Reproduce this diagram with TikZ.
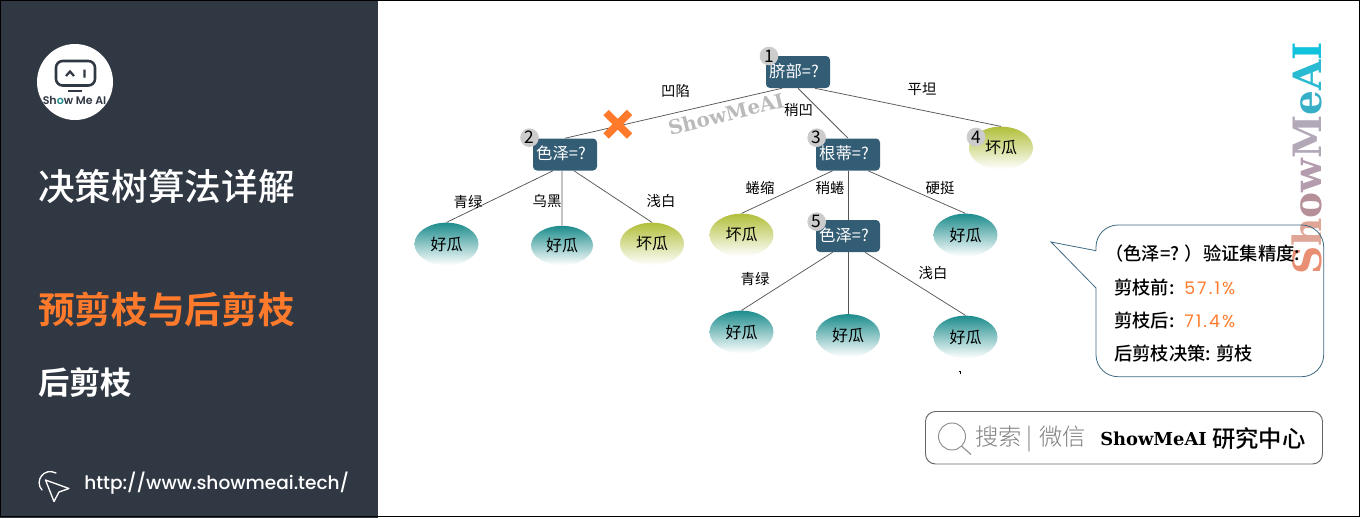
\documentclass[tikz,border=0pt]{standalone}
\usepackage{fontspec}
\setmainfont{Noto Sans CJK SC}
\newfontfamily\cjkfat{Noto Sans CJK SC Bold}
\newfontfamily\cjkmed{Noto Sans CJK SC Medium}
\newfontfamily\cjklight{Noto Sans CJK SC Light}
\newfontfamily\wm{DejaVu Serif Bold}
\newfontfamily\urlfont{Poppins Medium}
\newfontfamily\logofont{Poppins SemiBold}
\newfontfamily\numfont[LetterSpace=12]{Poppins}
\usetikzlibrary{shapes.geometric,calc}
\definecolor{panel}{HTML}{303843}
\definecolor{orng}{HTML}{FF7A2B}
\definecolor{boxc}{HTML}{335C75}
\definecolor{teal1}{HTML}{1D8C8C}
\definecolor{olive1}{HTML}{B2BF3A}
\definecolor{edgec}{HTML}{555555}
\definecolor{callc}{HTML}{3F6B82}
\tikzset{
  x=0.75pt,y=-0.75pt,
  qbox/.style={rectangle,rounded corners=3pt,fill=boxc,text=white,minimum width=48pt,minimum height=24pt,inner sep=0pt},
  qtext/.style={inner sep=0pt,text=white,font=\fontsize{12.3}{13}\selectfont},
  numc/.style={circle,fill=black!20,minimum size=14pt,inner sep=0pt,font=\fontsize{13}{14}\selectfont},
  tealleaf/.style={ellipse,top color=teal1,bottom color=white,minimum width=48pt,minimum height=32pt,inner sep=0pt,font=\fontsize{12}{13}\selectfont},
  oliveleaf/.style={tealleaf,top color=olive1},
  elabel/.style={inner sep=0pt,font=\fontsize{10.8}{11}\selectfont},
  conn/.style={draw=edgec,line width=0.55pt},
  calltext/.style={inner sep=0pt,anchor=west,font=\cjkmed\fontsize{13.7}{14}\selectfont},
  num/.style={inner sep=0pt,anchor=west,text=orng,font=\numfont\fontsize{13}{14}\selectfont},
  title/.style={inner sep=0pt,anchor=west,text=white},
}
\begin{document}
\begin{tikzpicture}
\useasboundingbox (0,0) rectangle (1361,518);
\fill[white] (0,0) rectangle (1361,518);
% left panel
\fill[panel] (0,0) rectangle (378,518);
\draw[black,line width=1.2pt] (0.5,0.5) rectangle (1359.5,516.5);
% logo
\fill[white] (75,82) circle (38);
\draw[panel,line width=1.9pt,rounded corners=5pt] (56,61) rectangle (95,85.5);
\draw[panel,line width=1.7pt] (66,76) -- (70,71.5) -- (74,76) (84.5,69.5) -- (84.5,77.5);
\draw[panel,line width=1.5pt] (68,91) -- (82,91);
\node[inner sep=0pt,text=panel,font=\logofont\fontsize{8.3}{9}\selectfont] (logotext) at (74.5,100.5) {Sh\textcolor{teal1}{o}w Me AI};
\node[title,font=\cjkmed\fontsize{27.5}{30}\selectfont] (t1) at (38,187) {决策树算法详解};
\node[title,text=orng,font=\cjkfat\fontsize{27.5}{30}\selectfont] (t2) at (38,310) {预剪枝与后剪枝};
\node[title,font=\cjkfat\fontsize{23.5}{26}\selectfont] (t3) at (38,383) {后剪枝};
% cursor
\draw[white,line width=1pt,line join=round,fill=panel] (45.5,480) -- (69,488.5) -- (59,492) -- (54,501.5) -- cycle;
\draw[white,line width=1pt,line cap=round] (42,490) .. controls (34,481) and (44,467) .. (56,473);
\node[title,font=\urlfont\fontsize{13.9}{16}\selectfont] (url) at (84,483) {http://www.showmeai.tech/};
% vertical watermark
\node[inner sep=0pt,rotate=90,font=\wm\fontsize{29.3}{30}\selectfont] (wmv) at (1306.5,158.5) {\textcolor[HTML]{E88E72}{S}\textcolor[HTML]{DFA596}{h}\textcolor[HTML]{B59098}{o}\textcolor[HTML]{B49CAE}{w}\textcolor[HTML]{B3A8B8}{M}\textcolor[HTML]{35AEC6}{e}\textcolor[HTML]{2ABBD3}{A}\textcolor[HTML]{10C2DC}{I}};
% diagonal watermark
\node[inner sep=0pt,rotate=14,text=black!27,font=\wm\fontsize{14.9}{15}\selectfont] (wmd) at (726,114) {ShowMeAI};
% nodes
\node[qbox] (n1) at (798,72) {};
\node[qbox] (n2) at (565,154.5) {};
\node[qbox] (n3) at (848,154.5) {};
\node[qbox] (n5) at (848,236) {};
\node[qtext] (q1) at (794,71) {脐部=?};
\node[qtext] (q2) at (561,153.5) {色泽=?};
\node[qtext] (q3) at (844,153.5) {根蒂=?};
\node[qtext] (q5) at (844,235) {色泽=?};
\node[oliveleaf] (n4) at (1001,148) {\raisebox{-1pt}{坏瓜}};
\node[tealleaf] (a1) at (446.5,244) {\raisebox{-.6pt}{好瓜}};
\node[tealleaf,minimum width=46.5pt,minimum height=29.5pt] (a2) at (562,245.5) {\raisebox{-.6pt}{好瓜}};
\node[oliveleaf] (a3) at (652,244) {\raisebox{-.6pt}{坏瓜}};
\node[oliveleaf] (b1) at (741.5,235) {\raisebox{-.6pt}{坏瓜}};
\node[tealleaf] (b3) at (965.5,235) {\raisebox{-.6pt}{好瓜}};
\node[tealleaf] (c1) at (741.5,332) {好瓜};
\node[tealleaf] (c2) at (848,335.5) {好瓜};
\node[tealleaf] (c3) at (965.5,337) {\raisebox{-.6pt}{好瓜}};
% connectors
\draw[conn] ([xshift=-12pt]n1.south) -- (n2.north);
\draw[conn] (n1.south) -- (n3.north);
\draw[conn] ([xshift=12.7pt]n1.south) -- (n4.north);
\draw[conn] ([xshift=-9pt]n2.south) -- (a1.north);
\draw[conn] ([xshift=-2.3pt]n2.south) -- (a2.north);
\draw[conn] ([xshift=6.7pt]n2.south) -- (a3.north);
\draw[conn] ([xshift=-11.5pt]n3.south) -- (b1.north);
\draw[conn] (n3.south) -- (n5.north);
\draw[conn] ([xshift=15pt]n3.south) -- (b3.north);
\draw[conn] ([xshift=-11.5pt]n5.south) -- (c1.north);
\draw[conn] (n5.south) -- (c2.north);
\draw[conn] ([xshift=12.7pt]n5.south) -- (c3.north);
% cross
\draw[orng,line width=5.6pt] (606,112.5) -- (629.5,136) (629.5,112.5) -- (606,136);
% number badges
\node[numc] (k1) at (769,56) {1};
\node[numc] (k2) at (529.5,137.7) {2};
\node[numc] (k3) at (816.7,137.7) {3};
\node[numc] (k4) at (976,137) {4};
\node[numc] (k5) at (816.7,221.7) {5};
% edge labels
\node[elabel] (l1) at (675.5,91) {凹陷};
\node[elabel] (l2) at (922,89) {平坦};
\node[elabel] (l3) at (798.5,110) {稍凹};
\node[elabel] (l4) at (468,202) {青绿};
\node[elabel] (l5) at (547,201) {乌黑};
\node[elabel] (l6) at (661,201) {浅白};
\node[elabel] (l7) at (760,188) {蜷缩};
\node[elabel] (l8) at (830,188) {稍蜷};
\node[elabel] (l9) at (940,188) {硬挺};
\node[elabel] (l10) at (755,279) {青绿};
\node[elabel] (l11) at (933,273) {浅白};
% tick
\draw[black,line width=0.6pt] (958.5,371.5) -- (960,371.5) -- (960,374);
% callout
\draw[callc,line width=0.6pt,line join=miter] (1096,250.7) -- (1051,242) -- (1096,288);
\draw[callc,line width=0.6pt,rounded corners=16.5pt] (1096,288) -- (1096,376.7) -- (1323.7,376.7) -- (1323.7,225) -- (1096,225) -- (1096,250.7);
\node[calltext] (c0) at (1105,254) {（色泽=? ）验证集精度:};
\node[calltext] (c11) at (1114,288) {剪枝前:};
\node[num] (c12) at (1184,288) {57.1\%};
\node[calltext] (c21) at (1114,321) {剪枝后:};
\node[num] (c22) at (1184,321) {71.4\%};
\node[calltext] (c31) at (1114,354) {后剪枝决策: 剪枝};
% search box
\draw[black!60,line width=0.7pt,rounded corners=7.5pt] (925.5,411.5) rectangle (1322.5,464);
\draw[black!45,line width=0.7pt] (952,436.5) circle (13.5);
\draw[black!45,line width=0.8pt] (961.5,446) -- (971,454.5);
\node[inner sep=0pt,anchor=west,text=black!50,font=\cjklight\fontsize{17.5}{18}\selectfont] (s1) at (975,439) {搜索\hspace{3.5pt}|\hspace{5pt}微信};
\node[inner sep=0pt,anchor=west,font=\wm\fontsize{13.4}{15}\selectfont] (s2) at (1100,439) {ShowMeAI};
\node[inner sep=0pt,anchor=west,font=\cjkmed\fontsize{17.5}{18}\selectfont] (s3) at (1212,439) {研究中心};
\end{tikzpicture}
\end{document}
